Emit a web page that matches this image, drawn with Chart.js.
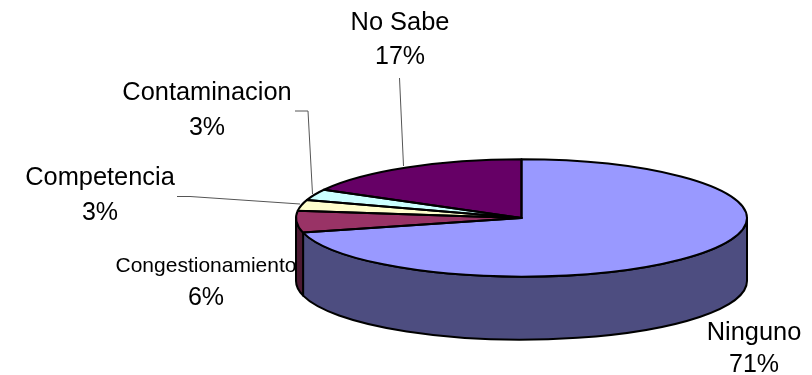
<!DOCTYPE html>
<html>
<head>
<meta charset="utf-8">
<script src="https://cdn.jsdelivr.net/npm/chart.js@4"></script>
<style>
  html, body { margin: 0; padding: 0; background: #fff; }
  canvas { display: block; }
</style>
</head>
<body>
<canvas id="chart" width="812" height="375"></canvas>
<script>
var categories = ["Ninguno", "Congestionamiento", "Competencia", "Contaminacion", "No Sabe"];
var shares = [71, 6, 3, 3, 17];
var topColors = ["#9999FF", "#993366", "#FFFFCC", "#CCFFFF", "#660066"];
var sideColors = ["#4D4D80", "#4D1A33", "#80805F", "#668080", "#330033"];

var squash = 0.26;   // flatten the pie to an ellipse
var depth = 63;      // height of the 3d wall

// label centre x, baseline of name, baseline of percent, font size
var labelSpots = [
    [754, 340, 372, 25.4],
    [206, 272, 305, 21],
    [100, 185, 220, 25.4],
    [207, 100, 135, 25.4],
    [400, 30, 64, 25.4]
];
var leaders = [
    [[399.5, 78], [403.5, 166]],
    [[295, 111], [308, 111], [312.5, 194]],
    [[177, 196.5], [190, 196.5], [300, 204]]
];

function wallPath(ctx, el, from, to) {
    var rx = el.outerRadius, ry = rx * squash;
    ctx.beginPath();
    ctx.ellipse(el.x, el.y, rx, ry, 0, from, to);
    ctx.ellipse(el.x, el.y + depth, rx, ry, 0, to, from, true);
    ctx.closePath();
}

function slicePath(ctx, el) {
    var rx = el.outerRadius, ry = rx * squash;
    ctx.beginPath();
    ctx.moveTo(el.x, el.y);
    ctx.ellipse(el.x, el.y, rx, ry, 0, el.startAngle, el.endAngle);
    ctx.closePath();
}

var pie3d = {
    id: "pie3d",
    beforeDatasetsDraw: function(chart) {
        var ctx = chart.ctx;
        var arcs = chart.getDatasetMeta(0).data;
        ctx.save();
        ctx.lineWidth = 2;
        ctx.strokeStyle = "#000";
        ctx.lineJoin = "round";
        arcs.forEach(function(el, i) {
            // only the front half of the pie shows a wall
            var from = Math.max(el.startAngle, 0);
            var to = Math.min(el.endAngle, Math.PI);
            if (to <= from) return;
            wallPath(ctx, el, from, to);
            ctx.fillStyle = sideColors[i];
            ctx.fill();
            ctx.stroke();
        });
        ctx.restore();
        // slices get painted by chart.js under this transform
        var c = arcs[0];
        ctx.save();
        ctx.translate(0, c.y);
        ctx.scale(1, squash);
        ctx.translate(0, -c.y);
    },
    afterDatasetsDraw: function(chart) {
        var ctx = chart.ctx;
        ctx.restore();
        var arcs = chart.getDatasetMeta(0).data;
        ctx.save();
        ctx.lineWidth = 2;
        ctx.strokeStyle = "#000";
        ctx.lineJoin = "round";
        arcs.forEach(function(el) {
            slicePath(ctx, el);
            ctx.stroke();
        });
        ctx.lineWidth = 1;
        ctx.strokeStyle = "#555";
        leaders.forEach(function(pts) {
            ctx.beginPath();
            pts.forEach(function(p, i) {
                if (i === 0) ctx.moveTo(p[0], p[1]);
                else ctx.lineTo(p[0], p[1]);
            });
            ctx.stroke();
        });
        ctx.fillStyle = "#000";
        ctx.textAlign = "center";
        ctx.textBaseline = "alphabetic";
        categories.forEach(function(name, i) {
            var s = labelSpots[i];
            ctx.font = s[3] + "px 'Liberation Sans', Arial, sans-serif";
            ctx.fillText(name, s[0], s[1]);
            ctx.font = "25px 'Liberation Sans', Arial, sans-serif";
            ctx.fillText(shares[i] + "%", s[0], s[2]);
        });
        ctx.restore();
    }
};

var chart = new Chart(document.getElementById("chart"), {
    type: "pie",
    data: {
        labels: categories,
        datasets: [{
            data: shares,
            backgroundColor: topColors,
            borderWidth: 0,
            radius: 225.5,
            clip: false
        }]
    },
    options: {
        responsive: false,
        animation: false,
        layout: { padding: { left: 231, top: 61 } },
        plugins: {
            legend: { display: false },
            tooltip: { enabled: false }
        }
    },
    plugins: [pie3d]
});
</script>
</body>
</html>
